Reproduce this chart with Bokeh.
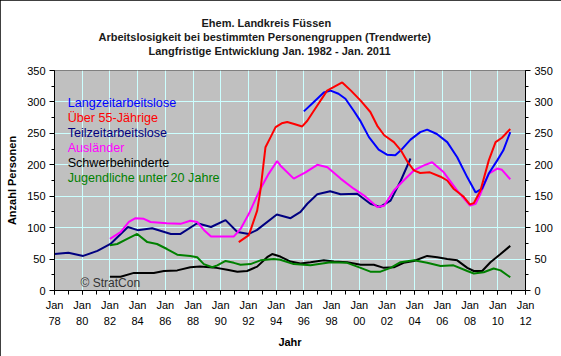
from bokeh.plotting import figure
from bokeh.models import Range1d, LinearAxis, FixedTicker, Label, Title
from bokeh.embed import file_html
from bokeh.resources import INLINE

# ---- data ----
teil_x = [1978.0, 1979.0, 1980.07, 1981.1, 1982.04, 1983.3, 1984.0, 1985.05, 1986.4, 1987.1,
          1988.3, 1989.3, 1990.35, 1991.2, 1992.03, 1992.6, 1994.05, 1995.04, 1995.76, 1996.25,
          1996.97, 1997.9, 1998.65, 1999.85, 2000.8, 2001.5, 2002.26, 2003.0, 2003.7]
teil_y = [58, 60, 55, 63, 74, 101, 96, 99, 90, 90,
          107, 101, 112, 93, 90, 96, 121, 115, 125, 138,
          153, 158, 153, 154, 138, 133, 143, 175, 210]

lang_x = [1996.0, 1996.72, 1997.44, 1997.93, 1998.5, 1999.0, 1999.6, 2000.1, 2000.7, 2001.4,
          2002.0, 2002.6, 2003.0, 2003.7, 2004.4, 2004.9, 2005.6, 2006.35, 2007.07, 2007.8,
          2008.4, 2008.87, 2009.35, 2009.96, 2010.4, 2010.9]
lang_y = [285, 300, 315, 318, 313, 305, 286, 269, 244, 224,
          216, 215, 223, 240, 252, 256, 249, 236, 212, 180,
          156, 162, 186, 207, 223, 252]

ue55_x = [1991.3, 1992.03, 1992.63, 1992.87, 1993.23, 1993.6, 1993.96, 1994.4, 1994.8, 1995.3,
          1995.88, 1996.25, 1996.72, 1997.68, 1998.77, 1999.4, 2000.1, 2000.8, 2001.3, 2001.8,
          2002.5, 2003.0, 2003.5, 2003.94, 2004.4, 2005.1, 2005.87, 2006.35, 2006.8, 2007.5,
          2007.98, 2008.27, 2008.75, 2009.35, 2009.84, 2010.3, 2010.9]
ue55_y = [77, 88, 127, 160, 228, 244, 260, 266, 268, 265,
          261, 270, 286, 318, 331, 318, 302, 284, 262, 247,
          236, 223, 204, 191, 187, 188, 181, 175, 162, 150,
          137, 139, 159, 207, 236, 243, 257]

ausl_x = [1982.0, 1982.77, 1983.37, 1983.85, 1984.45, 1984.93, 1986.1, 1987.1, 1987.8, 1988.3,
          1988.8, 1989.3, 1990.95, 1991.43, 1992.03, 1992.63, 1992.87, 1993.47, 1994.07, 1994.3,
          1995.27, 1996.12, 1996.97, 1997.7, 1998.65, 1999.6, 2000.35, 2001.3, 2001.8, 2002.5,
          2003.2, 2003.94, 2004.67, 2005.26, 2006.1, 2007.07, 2008.0, 2008.4, 2008.75, 2009.35,
          2009.96, 2010.3, 2010.9]
ausl_y = [82, 93, 109, 115, 114, 109, 107, 106, 111, 109,
          96, 86, 86, 98, 122, 151, 162, 186, 206, 199,
          178, 188, 200, 196, 178, 162, 151, 133, 135, 159,
          175, 191, 199, 204, 188, 159, 135, 138, 154, 186,
          194, 192, 177]

schw_x = [1982.0, 1982.77, 1983.73, 1985.17, 1985.9, 1986.86, 1987.8, 1988.5, 1989.7, 1990.47,
          1991.2, 1991.9, 1992.63, 1993.35, 1993.71, 1994.3, 1995.04, 1995.76, 1996.48, 1997.44,
          1998.17, 1999.13, 2000.1, 2001.05, 2001.77, 2002.5, 2003.2, 2003.94, 2004.9, 2005.63,
          2006.35, 2007.07, 2007.8, 2008.27, 2008.87, 2009.47, 2010.2, 2010.9]
schw_y = [22, 22, 28, 28, 31, 32, 37, 38, 36, 33,
          30, 31, 38, 53, 58, 54, 46, 43, 45, 48,
          46, 45, 41, 41, 36, 37, 44, 47, 55, 53,
          50, 48, 36, 31, 31, 45, 58, 71]

jug_x = [1982.0, 1982.53, 1983.25, 1983.97, 1984.7, 1985.4, 1986.12, 1986.86, 1987.8, 1988.3,
         1988.78, 1989.38, 1989.75, 1990.35, 1990.95, 1991.43, 1992.15, 1992.87, 1993.83, 1994.3,
         1995.27, 1996.48, 1997.93, 1999.13, 2000.1, 2000.8, 2001.53, 2002.26, 2002.98, 2003.94,
         2004.9, 2005.87, 2006.8, 2007.8, 2008.27, 2008.98, 2009.7, 2010.2, 2010.9]
jug_y = [72, 74, 82, 90, 77, 74, 66, 57, 55, 53,
         42, 37, 40, 47, 44, 41, 42, 48, 50, 49,
         42, 40, 45, 44, 36, 30, 30, 36, 45, 48,
         44, 39, 40, 31, 27, 29, 35, 32, 21]

series_names = ["Langzeitarbeitslose", "Über 55-Jährige", "Teilzeitarbeitslose",
                "Ausländer", "Schwerbehinderte", "Jugendliche unter 20 Jahre"]
series_colors = ["#0000FF", "#FF0000", "#000080", "#FF00FF", "#000000", "#008000"]

tick_years = list(range(1978, 2013, 2))
tick_labels = ["Jan\n%02d" % (y % 100) for y in tick_years]
minor_years = list(range(1978, 2013))
y_ticks = list(range(0, 351, 50))
y_minor = list(range(0, 351, 25))

title_lines = ["Ehem. Landkreis Füssen",
               "Arbeitslosigkeit bei bestimmten Personengruppen (Trendwerte)",
               "Langfristige Entwicklung Jan. 1982 - Jan. 2011"]
title_offsets = [147, 44, 94]   # left offsets (px) from the plot frame's left edge

FONT = "Liberation Sans"

p = figure(width=561, height=356, output_backend="svg", toolbar_location=None,
           x_range=Range1d(1978, 2012), y_range=Range1d(0, 350),
           background_fill_color="#C0C0C0", border_fill_color="white",
           min_border_left=54, min_border_right=36, min_border_top=70, min_border_bottom=66,
           outline_line_color="#808080")
p.styles = {"outline": "1px solid black", "outline-offset": "-1px"}

def style_title(t, off):
    t.align = "left"
    t.offset = off
    t.text_font = FONT
    t.text_font_size = "11px"
    t.text_font_style = "bold"
    t.text_color = "#1a1a1a"
    t.standoff = 0

# p.title is outermost (top); added titles stack from the frame upward
p.title.text = title_lines[0]
style_title(p.title, title_offsets[0])
spacer = Title(text=" ")
style_title(spacer, 0)
p.add_layout(spacer, "above")
for k in [2, 1]:
    t = Title(text=title_lines[k])
    style_title(t, title_offsets[k])
    p.add_layout(t, "above")

xt = FixedTicker(ticks=tick_years, minor_ticks=minor_years)
yt = FixedTicker(ticks=y_ticks, minor_ticks=y_minor)

left = p.yaxis[0]
bottom = p.xaxis[0]
bottom.ticker = xt
bottom.major_label_overrides = {y: l for y, l in zip(tick_years, tick_labels)}
left.ticker = yt

p.xgrid.ticker = xt
p.ygrid.ticker = yt
p.xgrid.grid_line_color = "#CCFFFF"
p.ygrid.grid_line_color = "#CCFFFF"

right = LinearAxis(ticker=yt)
p.add_layout(right, "right")

for ax in [bottom, left, right]:
    ax.axis_line_color = "black"
    ax.major_tick_line_color = "black"
    ax.minor_tick_line_color = "black"
    ax.major_tick_in = 0
    ax.minor_tick_in = 0
    ax.major_tick_out = 5
    ax.minor_tick_out = 3
    ax.major_label_text_font = FONT
    ax.major_label_text_font_size = "11px"
    ax.major_label_text_color = "black"
    ax.major_label_standoff = 4

bottom.minor_tick_out = 4
bottom.major_tick_out = 4
bottom.major_label_text_line_height = 1.4
bottom.axis_label = "Jahr"
left.axis_label = "Anzahl Personen"
for ax in [bottom, left]:
    ax.axis_label_text_font = FONT
    ax.axis_label_text_font_size = "11px"
    ax.axis_label_text_font_style = "bold"
    ax.axis_label_text_color = "black"
    ax.axis_label_standoff = 6

data = [(lang_x, lang_y), (ue55_x, ue55_y), (teil_x, teil_y),
        (ausl_x, ausl_y), (schw_x, schw_y), (jug_x, jug_y)]
draw_order = [2, 3, 4, 5, 0, 1]
for i in draw_order:
    xs, ys = data[i]
    p.line(xs, ys, line_color=series_colors[i], line_width=2)

for i, (name, col) in enumerate(zip(series_names, series_colors)):
    p.add_layout(Label(x=1978.95, y=298.6 - i * 23.86, text=name, text_color=col,
                       text_font=FONT, text_font_size="12.6px", text_baseline="middle"))

p.add_layout(Label(x=1979.88, y=0.8, text="© StratCon", text_color="#333333",
                   text_font=FONT, text_font_size="12px", text_baseline="bottom"))

open("out.html", "w").write(file_html(p, INLINE))
